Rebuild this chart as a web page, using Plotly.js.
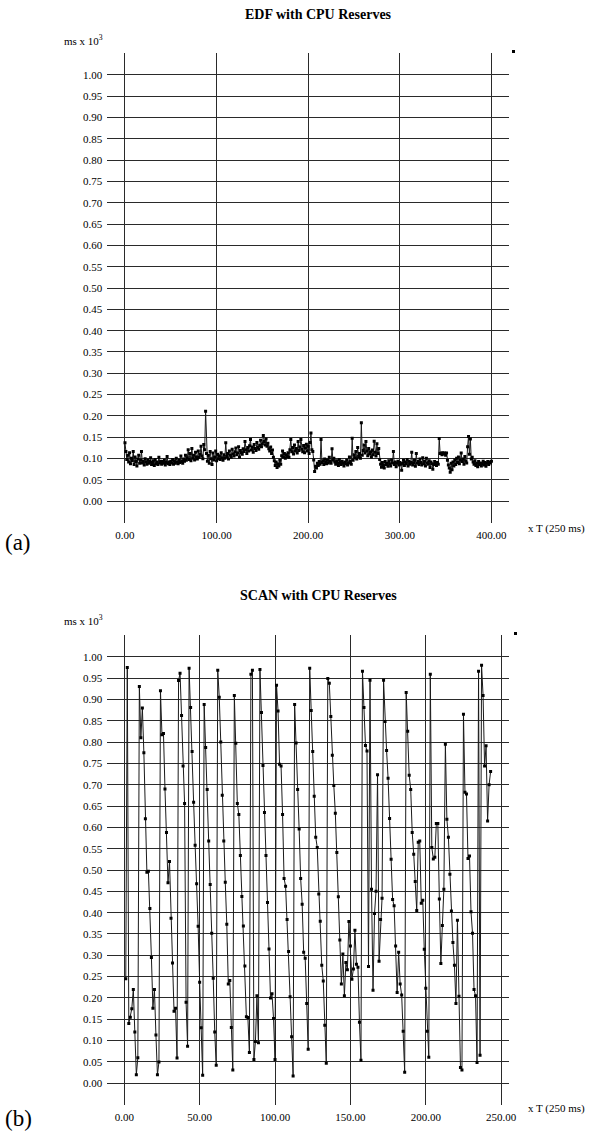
<!DOCTYPE html>
<html>
<head>
<meta charset="utf-8">
<script src="https://cdn.plot.ly/plotly-3.0.1.min.js"></script>
<style>html,body{margin:0;padding:0;background:#fff;}#chart{width:604px;height:1133px;}</style>
</head>
<body>
<div id="chart"></div>
<script>
// ---- DATA ----
const edfTitle = "EDF with CPU Reserves";
const scanTitle = "SCAN with CPU Reserves";
const yUnit = "ms x 10<sup>3</sup>";
const xUnit = "x T (250 ms)";
const yTickVals = [0.00,0.05,0.10,0.15,0.20,0.25,0.30,0.35,0.40,0.45,0.50,0.55,0.60,0.65,0.70,0.75,0.80,0.85,0.90,0.95,1.00];
const edfXTicks = [0,100,200,300,400];
const scanXTicks = [0,50,100,150,200,250];

// EDF response times (ms x 10^3), one sample per period T, t = 0..400
const edfValues = [
0.137,0.117,0.098,0.108,0.092,0.114,0.088,0.101,0.095,0.117,
0.086,0.104,0.093,0.083,0.099,0.108,0.089,0.096,0.117,0.090,
0.094,0.085,0.100,0.092,0.087,0.097,0.089,0.093,0.102,0.086,
0.091,0.095,0.084,0.098,0.088,0.092,0.086,0.103,0.090,0.094,
0.087,0.093,0.089,0.096,0.085,0.091,0.105,0.088,0.092,0.086,
0.094,0.090,0.098,0.087,0.095,0.089,0.101,0.092,0.088,0.097,
0.091,0.106,0.093,0.089,0.099,0.094,0.108,0.096,0.102,0.121,
0.098,0.112,0.095,0.124,0.101,0.108,0.097,0.115,0.104,0.099,
0.118,0.103,0.110,0.129,0.106,0.100,0.133,0.121,0.211,0.112,
0.094,0.108,0.089,0.117,0.100,0.086,0.113,0.097,0.104,0.118,
0.095,0.110,0.100,0.107,0.098,0.114,0.102,0.096,0.109,0.101,
0.137,0.105,0.112,0.099,0.118,0.108,0.103,0.122,0.111,0.106,
0.116,0.125,0.109,0.113,0.128,0.104,0.119,0.114,0.110,0.123,
0.117,0.140,0.121,0.112,0.126,0.118,0.130,0.145,0.120,0.127,
0.115,0.133,0.124,0.119,0.138,0.126,0.122,0.131,0.143,0.128,
0.135,0.154,0.140,0.132,0.146,0.129,0.136,0.123,0.118,0.127,
0.112,0.120,0.103,0.095,0.084,0.092,0.079,0.088,0.083,0.096,
0.087,0.107,0.118,0.104,0.112,0.101,0.109,0.105,0.114,0.103,
0.121,0.145,0.116,0.126,0.111,0.132,0.118,0.124,0.113,0.140,
0.119,0.127,0.145,0.122,0.116,0.131,0.114,0.125,0.134,0.118,
0.129,0.112,0.138,0.160,0.121,0.117,0.097,0.070,0.082,0.078,
0.089,0.084,0.093,0.087,0.145,0.091,0.095,0.086,0.099,0.092,
0.088,0.097,0.090,0.103,0.094,0.089,0.123,0.096,0.101,0.092,
0.087,0.095,0.090,0.084,0.098,0.091,0.086,0.094,0.089,0.083,
0.092,0.088,0.096,0.085,0.090,0.104,0.093,0.087,0.148,0.096,
0.109,0.102,0.117,0.099,0.126,0.105,0.112,0.101,0.184,0.108,
0.119,0.132,0.113,0.140,0.118,0.107,0.124,0.111,0.116,0.104,
0.120,0.109,0.141,0.115,0.106,0.135,0.112,0.124,0.098,0.087,
0.080,0.091,0.084,0.078,0.093,0.086,0.089,0.082,0.095,0.088,
0.083,0.097,0.090,0.117,0.086,0.092,0.081,0.089,0.094,0.085,
0.091,0.087,0.073,0.089,0.096,0.084,0.092,0.088,0.098,0.083,
0.094,0.087,0.091,0.115,0.085,0.090,0.096,0.082,0.112,0.089,
0.093,0.086,0.099,0.091,0.085,0.102,0.088,0.094,0.083,0.101,
0.090,0.087,0.095,0.079,0.092,0.088,0.075,0.086,0.093,0.089,
0.084,0.091,0.087,0.147,0.112,0.113,0.109,0.114,0.111,0.113,
0.108,0.113,0.096,0.085,0.078,0.068,0.089,0.074,0.092,0.083,
0.097,0.086,0.101,0.091,0.104,0.088,0.096,0.113,0.093,0.099,
0.087,0.105,0.094,0.090,0.128,0.152,0.110,0.146,0.099,0.103,
0.092,0.087,0.095,0.084,0.089,0.081,0.093,0.086,0.090,0.083,
0.088,0.094,0.085,0.091,0.082,0.089,0.093,0.086,0.092,0.090,
0.094
];

// SCAN response times (ms x 10^3), t = 1..243
const scanValues = [
0.245,0.975,0.140,0.155,0.175,0.220,0.120,0.020,0.060,0.930,
0.810,0.880,0.775,0.620,0.495,0.497,0.410,0.295,0.176,0.220,
0.113,0.020,0.050,0.920,0.817,0.820,0.690,0.588,0.470,0.520,
0.387,0.282,0.169,0.176,0.059,0.944,0.961,0.862,0.744,0.656,
0.190,0.087,0.973,0.881,0.778,0.659,0.558,0.468,0.368,0.237,
0.130,0.019,0.888,0.787,0.689,0.568,0.466,0.352,0.246,0.120,
0.042,0.968,0.905,0.800,0.675,0.568,0.471,0.373,0.233,0.241,
0.131,0.031,0.909,0.797,0.656,0.630,0.534,0.438,0.369,0.275,
0.156,0.154,0.072,0.959,0.968,0.056,0.098,0.205,0.095,0.970,
0.869,0.745,0.635,0.534,0.424,0.315,0.200,0.210,0.152,0.056,
0.933,0.873,0.748,0.744,0.630,0.480,0.462,0.384,0.309,0.203,
0.109,0.017,0.888,0.798,0.689,0.596,0.480,0.420,0.307,0.293,
0.187,0.080,0.973,0.874,0.778,0.673,0.577,0.553,0.444,0.380,
0.277,0.240,0.136,0.047,0.949,0.938,0.860,0.769,0.698,0.633,
0.541,0.437,0.336,0.233,0.303,0.205,0.283,0.266,0.379,0.322,
0.244,0.268,0.359,0.279,0.272,0.143,0.054,0.966,0.881,0.792,
0.779,0.274,0.945,0.455,0.218,0.398,0.450,0.723,0.286,0.384,
0.434,0.945,0.848,0.780,0.715,0.621,0.525,0.431,0.416,0.322,
0.213,0.307,0.233,0.207,0.122,0.026,0.916,0.825,0.722,0.689,
0.588,0.537,0.473,0.405,0.565,0.568,0.422,0.429,0.314,0.223,
0.122,0.061,0.959,0.553,0.526,0.530,0.609,0.609,0.432,0.281,
0.370,0.455,0.795,0.619,0.577,0.490,0.404,0.330,0.277,0.187,
0.382,0.204,0.037,0.031,0.865,0.682,0.678,0.527,0.533,0.402,
0.352,0.220,0.205,0.049,0.966,0.066,0.980,0.909,0.744,0.791,
0.615,0.700,0.731
];

const edfT = edfValues.map((_, i) => i);
const scanT = scanValues.map((_, i) => i + 1);

// ---- GEOMETRY (pixels of the 604x1133 page) ----
const W = 604, H = 1133;
const px = v => v / W;
const py = v => 1 - v / H;

const FONT = '"Liberation Serif", "Times New Roman", Times, serif';
const lineStyle = {color: '#1a1a1a', width: 1};
const markerStyle = {symbol: 'square', size: 3, color: '#000'};

const traces = [
  {x: edfT, y: edfValues, xaxis: 'x', yaxis: 'y', mode: 'lines+markers',
   line: lineStyle, marker: markerStyle, hoverinfo: 'skip', showlegend: false},
  {x: scanT, y: scanValues, xaxis: 'x2', yaxis: 'y2', mode: 'lines+markers',
   line: lineStyle, marker: markerStyle, hoverinfo: 'skip', showlegend: false}
];

const gridCol = '#2a2a2a';
function xAxis(range, ticks, anchor) {
  return {domain: [px(107.3), px(509.3)], range: range, anchor: anchor,
    tickmode: 'array', tickvals: ticks, tickformat: '.2f',
    showgrid: true, gridcolor: gridCol, gridwidth: 1, zeroline: false, showline: false,
    ticks: '', ticklabelstandoff: 4,
    tickfont: {family: FONT, size: 11, color: '#000'}, fixedrange: true};
}
function yAxis(domain, anchor) {
  return {domain: domain, range: [-0.0509, 1.0509], anchor: anchor,
    tickmode: 'array', tickvals: yTickVals, tickformat: '.2f',
    showgrid: true, gridcolor: gridCol, gridwidth: 1, zeroline: false, showline: false,
    ticks: '', ticklabelstandoff: 4,
    tickfont: {family: FONT, size: 11, color: '#000'}, fixedrange: true};
}

const topDom = [py(523), py(53)];
const botDom = [py(1105), py(635)];

function ann(text, x, y, size, xa, ya) {
  return {text: text, xref: 'paper', yref: 'paper', x: px(x), y: py(y),
    xanchor: xa, yanchor: ya, showarrow: false,
    font: {family: FONT, size: size, color: '#000'}};
}

const annotations = [
  ann('<b>' + edfTitle + '</b>', 318, 15, 14, 'center', 'middle'),
  ann(yUnit, 62, 40, 11, 'left', 'middle'),
  ann(xUnit, 526, 528, 11, 'left', 'middle'),
  ann('(a)', 3, 542, 23, 'left', 'middle'),
  ann('<b>' + scanTitle + '</b>', 318, 595, 14, 'center', 'middle'),
  ann(yUnit, 62, 620, 11, 'left', 'middle'),
  ann(xUnit, 526, 1108, 11, 'left', 'middle'),
  ann('(b)', 3, 1118, 23, 'left', 'middle')
];

const shapes = [
  {type: 'rect', xref: 'paper', yref: 'paper', x0: px(512), x1: px(515), y0: py(53), y1: py(50),
   fillcolor: '#000', line: {width: 0}},
  {type: 'rect', xref: 'paper', yref: 'paper', x0: px(514), x1: px(517), y0: py(635), y1: py(632),
   fillcolor: '#000', line: {width: 0}}
];

const layout = {
  width: W, height: H,
  margin: {l: 0, r: 0, t: 0, b: 0},
  paper_bgcolor: '#fff', plot_bgcolor: '#fff',
  showlegend: false,
  xaxis: xAxis([-19.3, 419.5], edfXTicks, 'y'),
  yaxis: yAxis(topDom, 'x'),
  xaxis2: xAxis([-11.26, 255.4], scanXTicks, 'y2'),
  yaxis2: yAxis(botDom, 'x2'),
  annotations: annotations,
  shapes: shapes,
  font: {family: FONT, color: '#000'}
};

Plotly.newPlot('chart', traces, layout, {staticPlot: true, displayModeBar: false});
</script>
</body>
</html>
